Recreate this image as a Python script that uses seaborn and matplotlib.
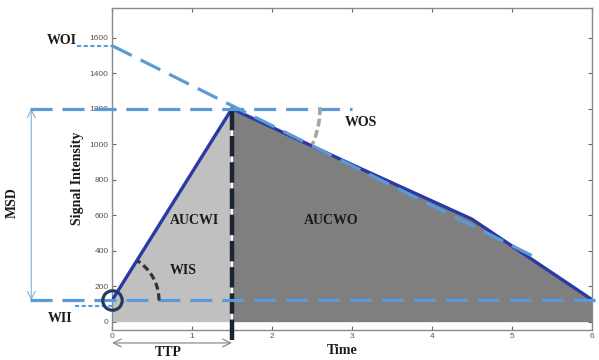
import numpy as np
import matplotlib
matplotlib.use("Agg")
import matplotlib.pyplot as plt
import seaborn as sns

# ---- data ----
times = [0, 1.5, 3.0, 4.5, 6.0]
signal = [120, 1200, 885, 578, 125]
ttp = 1.5
baseline = 120
peak = 1200
woi_value = 1555
wii_value = 88
wos_x = [0, 5.35]
wos_y = [1555, 350]
xticks = [0, 1, 2, 3, 4, 5, 6]
yticks = [0, 200, 400, 600, 800, 1000, 1200, 1400, 1600]

sns.set_theme(style="white")
plt.rcParams['font.family'] = ['Liberation Sans', 'DejaVu Sans']

W, H = 599, 360
fig = plt.figure(figsize=(W / 100, H / 100), dpi=100)
ax_left, ax_bottom, ax_w, ax_h = 112 / W, 30 / H, 479.7 / W, 322 / H
ax = fig.add_axes([ax_left, ax_bottom, ax_w, ax_h])
XMIN, XMAX, YMIN, YMAX = 0, 6, -47, 1767
ax.set_xlim(XMIN, XMAX)
ax.set_ylim(YMIN, YMAX)

sx = ax_w * W / (XMAX - XMIN)   # px per x unit
sy = ax_h * H / (YMAX - YMIN)   # px per y unit

blue_dash = '#5b9bd5'
curve_col = '#2b39a6'

# fills
ax.fill_between(times[:2], signal[:2], 0, color='#c0c0c0', lw=0, zorder=1)
ax.fill_between(times[1:], signal[1:], 0, color='#7f7f7f', lw=0, zorder=1)

# vertical TTP marker (white underneath, dark dashes on top)
ax.plot([ttp, ttp], [0, peak], color='white', lw=1.5, zorder=2)
ax.plot([ttp, ttp], [-103, peak], color='#1c2430', lw=3.2, zorder=5,
        dashes=(4.6, 1.3), clip_on=False)

# curve
sns.lineplot(x=times, y=signal, color=curve_col, lw=2.4, ax=ax, zorder=4)

# dashed reference lines
dkw = dict(color=blue_dash, lw=2.3, dashes=(6.9, 3.1), clip_on=False, zorder=6)
ax.plot([-1.03, 3.0], [peak, peak], **dkw)
ax.plot([-1.03, 6.1], [baseline, baseline], **dkw)
ax.plot(wos_x, wos_y, **dkw)
ax.plot([-0.44, 0], [woi_value, woi_value], color=blue_dash, lw=1.5,
        dashes=(2, 1.2), clip_on=False, zorder=6)
ax.plot([-0.46, 0], [wii_value, wii_value], color=blue_dash, lw=1.5,
        dashes=(2, 1.2), clip_on=False, zorder=6)

# arcs
def arc(cx, cy, r_px, a0, a1, **kw):
    t = np.radians(np.linspace(a0, a1, 60))
    ax.plot(cx + r_px * np.cos(t) / sx, cy + r_px * np.sin(t) / sy, **kw)

arc(0, baseline, 47, 0, 57, color='#333333', lw=2.3, dashes=(2.2, 1.2), zorder=7)
arc(ttp, peak, 88, 1, -24, color='#a6a6a6', lw=2.6, dashes=(2.2, 1.0), zorder=7)

# circle at WII
ax.plot([0], [baseline], marker='o', ms=14, mfc='none', mec='#1f3c5e', mew=2.3,
        clip_on=False, zorder=8)

# arrows
ax.annotate('', xy=(-1.01, peak), xytext=(-1.01, baseline),
            arrowprops=dict(arrowstyle='<->', color='#7fb0dd', lw=0.8,
                            shrinkA=0, shrinkB=0, mutation_scale=14),
            annotation_clip=False)
ax.annotate('', xy=(0, -120), xytext=(ttp, -120),
            arrowprops=dict(arrowstyle='<->', color='#8c8c8c', lw=0.9,
                            shrinkA=0, shrinkB=0, mutation_scale=14),
            annotation_clip=False)

# axes styling
for s in ax.spines.values():
    s.set_color('#8a8a8a')
    s.set_linewidth(1.0)
ax.set_xticks(xticks)
ax.set_yticks(yticks)
ax.set_xticklabels([str(v) for v in xticks])
ax.set_yticklabels([str(v) for v in yticks])
ax.tick_params(direction='in', length=3, width=0.8, color='#666666',
               labelsize=6, labelcolor='#555555', top=True, right=True,
               bottom=True, left=True, pad=2.5)
ax.set_xlabel('')
ax.set_ylabel('')

# labels
serif = dict(family=['Liberation Serif', 'DejaVu Serif'], weight='bold',
             fontsize=10, color='#1a1a1a', ha='center', va='center')

def ftxt(px, py, s, **kw):
    d = dict(serif)
    d.update(kw)
    fig.text(px / W, 1 - py / H, s, **d)

ftxt(62, 41, 'WOI')
ftxt(12, 203, 'MSD', rotation=90)
ftxt(60, 318, 'WII')
ftxt(78, 178, 'Signal Intensity', rotation=90)
ftxt(342, 350, 'Time')
ftxt(168, 352, 'TTP')
ftxt(194, 220, 'AUCWI')
ftxt(331, 220, 'AUCWO')
ftxt(183, 271, 'WIS')
ftxt(361, 123, 'WOS')

fig.savefig('out.png', dpi=100)
